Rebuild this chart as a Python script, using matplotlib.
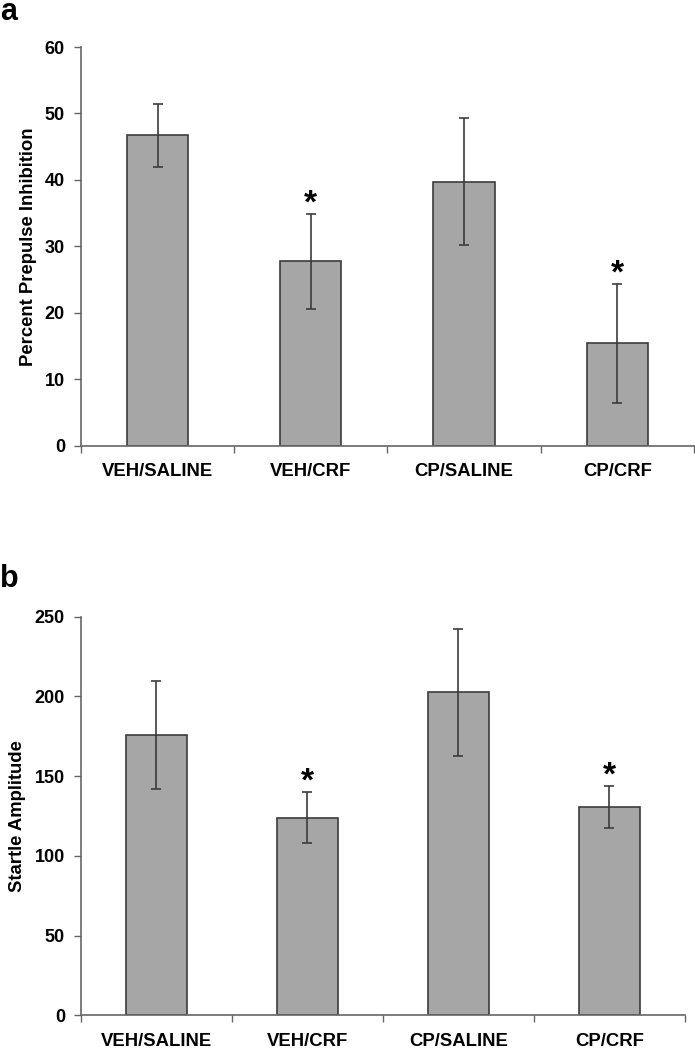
import matplotlib
matplotlib.use("Agg")
import matplotlib.pyplot as plt
import numpy as np

plt.rcParams['font.family'] = ['Liberation Sans', 'DejaVu Sans']
plt.rcParams['font.weight'] = 'bold'

categories = ["VEH/SALINE", "VEH/CRF", "CP/SALINE", "CP/CRF"]

ppi_mean = [46.7, 27.8, 39.7, 15.4]
ppi_upper = [51.4, 34.9, 49.3, 24.3]
ppi_lower = [42.0, 20.6, 30.2, 6.5]
ppi_sig = [False, True, False, True]

startle_mean = [175.7, 123.9, 202.5, 130.4]
startle_upper = [209.4, 139.8, 242.2, 143.6]
startle_lower = [141.9, 108.0, 162.8, 117.4]
startle_sig = [False, True, False, True]

bar_color = "#a6a6a6"
edge_color = "#3c3c3c"

fig = plt.figure(figsize=(6.95, 10.5), dpi=100)

def panel(rect, mean, upper, lower, sig, ylim, yticks, ylabel):
    ax = fig.add_axes(rect)
    x = np.arange(len(categories))
    mean = np.array(mean); upper = np.array(upper); lower = np.array(lower)
    yerr = [mean - lower, upper - mean]
    ax.bar(x, mean, width=0.4, color=bar_color, edgecolor=edge_color, linewidth=1.2, zorder=2)
    ax.errorbar(x, mean, yerr=yerr, fmt='none', ecolor=edge_color, elinewidth=1.2,
                capsize=3.5, capthick=1.2, zorder=3)
    for xi, u, s in zip(x, upper, sig):
        if s:
            ax.annotate("*", xy=(xi, u), xytext=(0, 1), textcoords='offset points',
                        ha='center', va='baseline', fontsize=24, fontweight='bold')
    ax.set_xlim(-0.5, len(categories) - 0.5)
    ax.set_ylim(*ylim)
    ax.set_yticks(yticks)
    ax.set_yticklabels([str(t) for t in yticks], fontsize=13, fontweight='bold')
    ax.set_xticks(x)
    ax.set_xticklabels(categories, fontsize=13.3, fontweight='bold')
    ax.tick_params(axis='x', which='major', length=0, pad=12.5)
    ax.set_xticks(np.arange(-0.5, len(categories)), minor=True)
    ax.tick_params(axis='x', which='minor', length=5, width=1, color='#666666', direction='out')
    ax.tick_params(axis='y', length=5, width=1, color='#666666', direction='out', pad=6.5)
    for sp in ['top', 'right']:
        ax.spines[sp].set_visible(False)
    for sp in ['left', 'bottom']:
        ax.spines[sp].set_color('#666666')
        ax.spines[sp].set_linewidth(1.2)
    ax.set_ylabel(ylabel, fontsize=13.3, fontweight='bold', labelpad=6)
    return ax

ax1 = panel([0.1165, 0.5755, 0.882, 0.3797], ppi_mean, ppi_upper, ppi_lower, ppi_sig,
            (0, 60), [0, 10, 20, 30, 40, 50, 60], "Percent Prepulse Inhibition")
ax2 = panel([0.1165, 0.033, 0.869, 0.3797], startle_mean, startle_upper, startle_lower, startle_sig,
            (0, 250), [0, 50, 100, 150, 200, 250], "Startle Amplitude")

fig.text(0.0, 1 - 20 / 1050, "a", fontsize=22, fontweight='bold', ha='left', va='baseline')
fig.text(0.0, 1 - 587 / 1050, "b", fontsize=22, fontweight='bold', ha='left', va='baseline')

fig.savefig("out.png", dpi=100)
